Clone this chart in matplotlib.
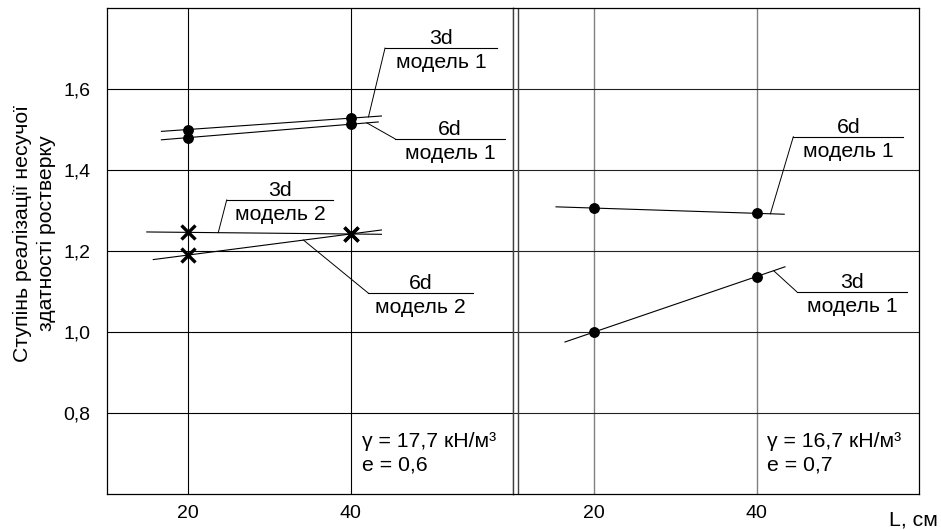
import numpy as np
import matplotlib
matplotlib.use("Agg")
import matplotlib.pyplot as plt
from matplotlib.lines import Line2D

plt.rcParams['font.family'] = ['Liberation Sans', 'DejaVu Sans']
plt.rcParams['font.size'] = 15

# Pile length, cm
L = [20, 40]
x_ticks = [20, 40]
y_ticks = [0.8, 1.0, 1.2, 1.4, 1.6]
y_tick_labels = ["0,8", "1,0", "1,2", "1,4", "1,6"]

# Soil: gamma = 17,7 kN/m3, e = 0,6
left_3d_m1 = [1.500, 1.528]
left_6d_m1 = [1.480, 1.513]
left_3d_m2 = [1.246, 1.242]
left_6d_m2 = [1.190, 1.242]

# Soil: gamma = 16,7 kN/m3, e = 0,7
right_6d_m1 = [1.306, 1.293]
right_3d_m1 = [1.000, 1.137]

TXT = 15.3
TICK = 14

W, H = 941, 530
fig = plt.figure(figsize=(W / 100, H / 100), dpi=100)
ax1 = fig.add_axes([107 / W, 36 / H, 406 / W, 486 / H])
ax2 = fig.add_axes([513 / W, 36 / H, 406 / W, 486 / H])

for ax in (ax1, ax2):
    ax.set_xlim(10, 60)
    ax.set_ylim(0.6, 1.8)
    ax.set_xticks(x_ticks)
    ax.set_yticks(y_ticks)
    ax.tick_params(length=0, labelsize=TICK)
    ax.tick_params(axis='x', pad=8)
    ax.set_axisbelow(True)
    for s in ax.spines.values():
        s.set_color('black')
        s.set_linewidth(0.9)

ax1.set_yticklabels(y_tick_labels)
ax1.tick_params(axis='y', pad=12)
ax2.tick_params(axis='y', labelleft=False)

ax1.grid(True, color='black', linewidth=0.8)
ax2.xaxis.grid(True, color='#808080', linewidth=1.0)
ax2.yaxis.grid(True, color='#222222', linewidth=0.8)

# double separator between the two soil panels
ax1.spines['right'].set_color('#404040')
ax2.spines['left'].set_visible(False)
ax2.add_line(Line2D([5 / 406, 5 / 406], [0, 1], transform=ax2.transAxes,
                    color='#404040', linewidth=1.0))
ax2.add_line(Line2D([0, 0], [0, 1], transform=ax2.transAxes,
                    color='#404040', linewidth=1.0, clip_on=False))


def trend(ax, vals, span, marker):
    coef = np.polyfit(L, vals, 1)
    xs = np.array(span)
    ax.plot(xs, np.polyval(coef, xs), color='black', linewidth=0.8, zorder=3)
    if marker == 'o':
        ax.plot(L, vals, 'o', color='black', markersize=6.8, zorder=4)
    else:
        ax.plot(L, vals, 'x', color='black', markersize=9.5,
                markeredgewidth=2.4, zorder=4)
    return coef


c_l3m1 = trend(ax1, left_3d_m1, (16.7, 43.8), 'o')
c_l6m1 = trend(ax1, left_6d_m1, (16.7, 43.4), 'o')
c_l3m2 = trend(ax1, left_3d_m2, (14.9, 43.8), 'x')
c_l6m2 = trend(ax1, left_6d_m2, (15.7, 43.8), 'x')
c_r6m1 = trend(ax2, right_6d_m1, (15.3, 43.4), 'o')
c_r3m1 = trend(ax2, right_3d_m1, (16.4, 43.5), 'o')


def callout(ax, coef, lead_x, x0, x1, y, top, bottom):
    ax.plot([lead_x, x0], [np.polyval(coef, lead_x), y], color='black',
            linewidth=0.7, zorder=3)
    ax.plot([x0, x1], [y, y], color='black', linewidth=0.8, zorder=3)
    xc = (x0 + x1) / 2
    ax.annotate(top, (xc, y), xytext=(0, 3), textcoords='offset points',
                ha='center', va='baseline', fontsize=TXT)
    ax.annotate(bottom, (xc, y), xytext=(0, -14.5), textcoords='offset points',
                ha='center', va='baseline', fontsize=TXT)


callout(ax1, c_l3m1, 42.2, 44.24, 58.03, 1.701, "3d", "модель 1")
callout(ax1, c_l6m1, 42.0, 45.47, 59.01, 1.477, "6d", "модель 1")
callout(ax1, c_l3m2, 23.7, 24.74, 37.87, 1.326, "3d", "модель 2")
callout(ax1, c_l6m2, 34.2, 42.18, 55.11, 1.096, "6d", "модель 2")
callout(ax2, c_r6m1, 41.7, 44.52, 58.07, 1.482, "6d", "модель 1")
callout(ax2, c_r3m1, 42.1, 44.94, 58.56, 1.0995, "3d", "модель 1")

ax1.text(41.4, 0.716, "γ = 17,7 кН/м³", ha='left', va='baseline', fontsize=TXT)
ax1.text(41.4, 0.659, "e = 0,6", ha='left', va='baseline', fontsize=TXT)
ax2.text(41.3, 0.716, "γ = 16,7 кН/м³", ha='left', va='baseline', fontsize=TXT)
ax2.text(41.3, 0.659, "e = 0,7", ha='left', va='baseline', fontsize=TXT)

fig.text(889 / W, 1 - 525 / H, "L, см", ha='left', va='baseline', fontsize=TXT)
fig.text(34.5 / W, 1 - 233 / H,
         "Ступінь реалізації несучої\nздатності ростверку",
         rotation=90, ha='center', va='center', multialignment='center',
         linespacing=1.35, fontsize=TXT)

fig.savefig("out.png", dpi=100, facecolor='white')
